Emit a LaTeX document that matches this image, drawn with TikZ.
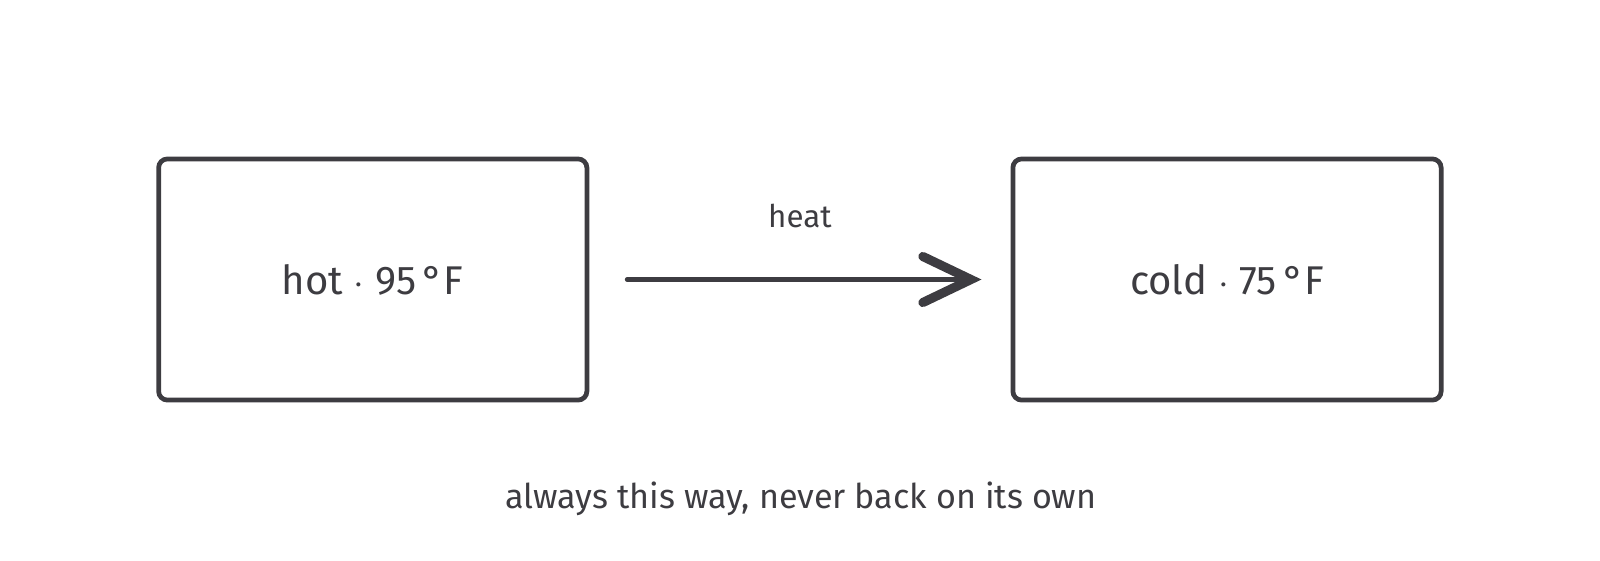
\documentclass[tikz,border=0pt]{standalone}
\usepackage{fontspec}
\setmainfont{Fira Sans}
\usetikzlibrary{arrows.meta,positioning}

\definecolor{inkgray}{HTML}{3D3C41}

\tikzset{
    statebox/.style={draw=inkgray, line width=1.35pt, rounded corners=2.5pt,
        minimum width=4.28cm, minimum height=2.41cm, text=inkgray,
        font=\fontsize{11.4pt}{13pt}\selectfont},
    flowline/.style={draw=inkgray, line width=1.4pt, line cap=round,
        -{Straight Barb[length=4.8mm, width=4.6mm, line width=2.6pt, line cap=round]}},
    note/.style={text=inkgray}
}

\begin{document}
\begin{tikzpicture}[x=0.01cm, y=-0.01cm]
    \useasboundingbox (0,0) rectangle (1600,560);

    \node[statebox] (hot) at (372.75,279.5) {hot $\cdot$ 95\,°F};
    \node[statebox] (cold) at (1227,279.5) {cold $\cdot$ 75\,°F};

    \draw[flowline, shorten <=0.38cm, shorten >=0.29cm] (hot) --
        node[note, above=0.37cm, font=\fontsize{8.9pt}{10pt}\selectfont] (heatlabel) {heat} (cold);

    \node[note, font=\fontsize{9.7pt}{11pt}\selectfont] (caption) at (801,499)
        {always this way, never back on its own};
\end{tikzpicture}
\end{document}
